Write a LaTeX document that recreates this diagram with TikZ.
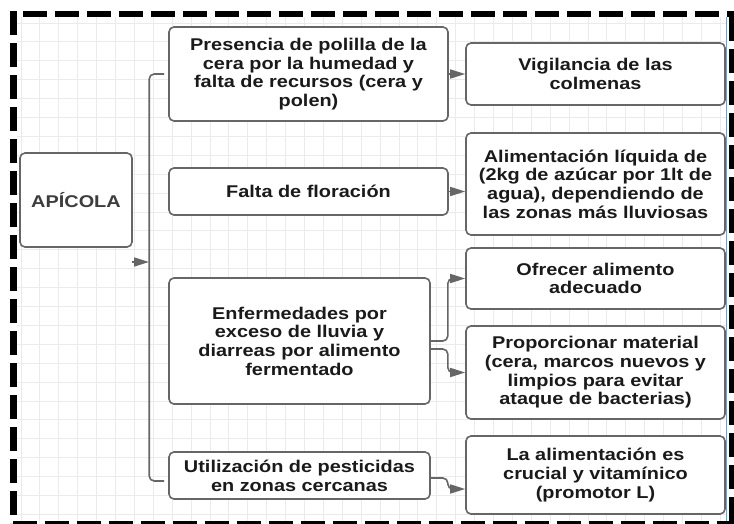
\documentclass[tikz,border=0pt]{standalone}
\usepackage{fontspec}
\setmainfont{Liberation Sans}[FakeStretch=1.17]
\usetikzlibrary{arrows.meta}
\definecolor{linegray}{HTML}{666666}
\definecolor{gridgray}{HTML}{EBEBEB}
\definecolor{textdark}{HTML}{1A1A1A}
\definecolor{apicolagray}{HTML}{3D3D3D}
\definecolor{edgeblue}{HTML}{5AA8E4}
\tikzset{
  box/.style={draw=linegray, line width=1.6pt, rounded corners=5pt, fill=white,
    text=textdark, font=\fontsize{17}{18.7}\selectfont\bfseries, align=center, inner sep=0pt},
  link/.style={draw=linegray, line width=1.6pt, rounded corners=5pt,
    -{Triangle[length=15pt,width=9pt]}},
  border/.style={line width=6.5pt, dash pattern=on 24pt off 8pt},
}
\begin{document}
\begin{tikzpicture}[x=1pt,y=-1pt]
    \useasboundingbox (0,0) rectangle (734,523);
    \fill[white] (0,0) rectangle (734,523);

    % grid
    \foreach \i in {0,...,37}
        \draw[gridgray, line width=0.9pt] (21+18.9*\i,17) -- (21+18.9*\i,523);
    \foreach \j in {0,...,26}
        \draw[gridgray, line width=0.9pt] (17,23+18.9*\j) -- (726,23+18.9*\j);
    \draw[edgeblue, line width=1pt] (726,17) -- (726,523);

    % left column
    \node[box, minimum width=112pt, minimum height=94pt, text=apicolagray]
        (apicola) at (76,200) {APÍCOLA};
    \node[box, minimum width=279pt, minimum height=94pt]
        (presencia) at (308.5,74) {Presencia de polilla de la\\cera por la humedad y\\falta de recursos (cera y\\polen)};
    \node[box, minimum width=279pt, minimum height=47pt]
        (falta) at (308.5,191.5) {Falta de floración};
    \node[box, minimum width=261pt, minimum height=126pt]
        (enfermedades) at (299.5,341) {Enfermedades por\\exceso de lluvia y\\diarreas por alimento\\fermentado};
    \node[box, minimum width=261pt, minimum height=47pt]
        (pesticidas) at (299.5,475.5) {Utilización de pesticidas\\en zonas cercanas};

    % right column
    \node[box, minimum width=259pt, minimum height=62pt]
        (vigilancia) at (595.5,74) {Vigilancia de las\\colmenas};
    \node[box, minimum width=259pt, minimum height=102pt]
        (liquida) at (595.5,184) {Alimentación líquida de\\(2kg de azúcar por 1lt de\\agua), dependiendo de\\las zonas más lluviosas};
    \node[box, minimum width=259pt, minimum height=61pt]
        (ofrecer) at (595.5,278.5) {Ofrecer alimento\\adecuado};
    \node[box, minimum width=259pt, minimum height=93pt]
        (material) at (595.5,372.5) {Proporcionar material\\(cera, marcos nuevos y\\limpios para evitar\\ataque de bacterias)};
    \node[box, minimum width=259pt, minimum height=78pt]
        (vitaminico) at (595.5,475) {La alimentación es\\crucial y vitamínico\\(promotor L)};

    % bracket
    \coordinate (bktop) at ([xshift=-4pt]presencia.west);
    \coordinate (bkbot) at ([xshift=-4pt,yshift=-5.5pt]pesticidas.west);
    \draw[linegray, line width=1.6pt, rounded corners=5pt]
        (bktop) -- ++(-15,0) |- (bkbot);
    \coordinate (apicolaout) at (132,262);
    \coordinate (bkline) at (149,262);
    \draw[link] (apicolaout) -- (bkline);

    % links
    \draw[link] (presencia) -- (vigilancia);
    \draw[link] (falta.east) -- (falta.east -| liquida.west);
    \draw[link] (enfermedades.east) -- ++(17,0) |- (ofrecer.west);
    \draw[link] ([yshift=-8pt]enfermedades.east) -- ++(17,0) |- (material.west);
    \draw[link] ([yshift=-2.5pt]pesticidas.east) -- ++(17,0) |- ([yshift=-14pt]vitaminico.west);

    % dashed frame
    \draw[border] (13.5,11) -- (13.5,523);
    \draw[border] (23,14) -- (734,14);
    \draw[border] (732.5,17) -- (732.5,523);
    \draw[border] (13,524) -- (734,524);
\end{tikzpicture}
\end{document}
